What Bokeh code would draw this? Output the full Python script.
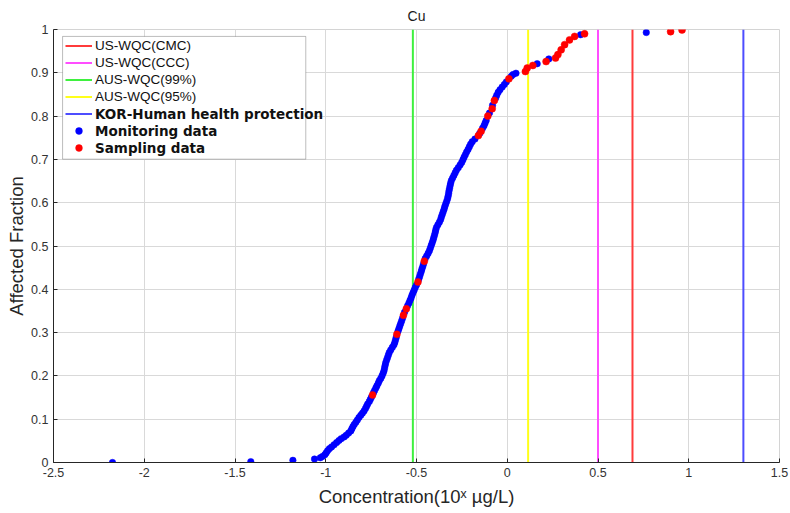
from bokeh.plotting import figure
from bokeh.models import (Range1d, FixedTicker, CustomJSTickFormatter, Legend, LegendItem,
                          BoxAnnotation, ColumnDataSource)
from bokeh.embed import file_html
from bokeh.resources import INLINE

# ---------------- data ----------------
title_text = "Cu"
threshold_names = ["US-WQC(CMC)", "US-WQC(CCC)", "AUS-WQC(99%)", "AUS-WQC(95%)", "KOR-Human health protection"]
threshold_values = [0.69, 0.50, -0.52, 0.115, 1.301]
threshold_colors = ["#ff3b3b", "#ff4dff", "#3ff03f", "#ffff1a", "#4d4dff"]

monitoring_x = [-2.175, -1.413, -1.181, -1.062, -1.030, -1.018, -1.005, -0.998, -0.990, -0.980,
                -0.968, -0.954, -0.940, -0.927, -0.915, -0.899, -0.887, -0.874, -0.862, -0.856,
                -0.850, -0.843, -0.834, -0.826, -0.817, -0.807, -0.798, -0.789, -0.781, -0.775,
                -0.769, -0.760, -0.754, -0.748, -0.737, -0.731, -0.724, -0.718, -0.711, -0.705,
                -0.697, -0.690, -0.684, -0.679, -0.676, -0.673, -0.670, -0.665, -0.660, -0.655,
                -0.650, -0.642, -0.633, -0.624, -0.619, -0.615, -0.611, -0.602, -0.597, -0.592,
                -0.587, -0.582, -0.577, -0.566, -0.549, -0.542, -0.536, -0.530, -0.525, -0.519,
                -0.513, -0.507, -0.500, -0.488, -0.483, -0.479, -0.474, -0.470, -0.465, -0.461,
                -0.452, -0.444, -0.436, -0.429, -0.424, -0.419, -0.414, -0.409, -0.405, -0.401,
                -0.397, -0.394, -0.390, -0.382, -0.374, -0.367, -0.363, -0.358, -0.353, -0.348,
                -0.344, -0.339, -0.334, -0.329, -0.326, -0.323, -0.321, -0.318, -0.315, -0.312,
                -0.308, -0.301, -0.294, -0.287, -0.280, -0.270, -0.260, -0.251, -0.244, -0.238,
                -0.231, -0.224, -0.216, -0.209, -0.202, -0.193, -0.178, -0.152, -0.136, -0.128,
                -0.122, -0.116, -0.098, -0.081, -0.064, -0.058, -0.050, -0.040, -0.028, -0.016,
                -0.005, 0.022, 0.032, 0.048, 0.165, 0.229, 0.404, 0.766]
monitoring_y = [0.000, 0.002, 0.005, 0.008, 0.011, 0.014, 0.018, 0.022, 0.027, 0.032,
                0.036, 0.041, 0.046, 0.051, 0.055, 0.059, 0.063, 0.068, 0.073, 0.078,
                0.083, 0.088, 0.093, 0.098, 0.104, 0.109, 0.114, 0.119, 0.125, 0.130,
                0.135, 0.141, 0.146, 0.151, 0.161, 0.166, 0.172, 0.177, 0.183, 0.189,
                0.194, 0.200, 0.206, 0.212, 0.218, 0.224, 0.230, 0.236, 0.242, 0.248,
                0.254, 0.260, 0.266, 0.272, 0.278, 0.284, 0.290, 0.303, 0.309, 0.315,
                0.321, 0.327, 0.333, 0.347, 0.362, 0.368, 0.374, 0.380, 0.386, 0.392,
                0.398, 0.404, 0.410, 0.423, 0.429, 0.435, 0.441, 0.447, 0.453, 0.459,
                0.471, 0.477, 0.483, 0.489, 0.495, 0.501, 0.507, 0.513, 0.519, 0.525,
                0.531, 0.537, 0.543, 0.549, 0.555, 0.561, 0.567, 0.573, 0.579, 0.585,
                0.591, 0.597, 0.603, 0.609, 0.615, 0.621, 0.627, 0.633, 0.639, 0.645,
                0.651, 0.657, 0.663, 0.669, 0.675, 0.681, 0.687, 0.693, 0.699, 0.705,
                0.711, 0.717, 0.723, 0.729, 0.735, 0.741, 0.747, 0.760, 0.772, 0.778,
                0.784, 0.790, 0.807, 0.825, 0.842, 0.848, 0.855, 0.861, 0.867, 0.873,
                0.879, 0.892, 0.896, 0.899, 0.921, 0.932, 0.988, 0.993]

sampling_x = [-0.742, -0.608, -0.572, -0.556, -0.492, -0.457, -0.159, -0.144, -0.107, -0.083,
              -0.071, 0.009, 0.100, 0.110, 0.141, 0.214, 0.266, 0.279, 0.297, 0.316,
              0.343, 0.371, 0.426, 0.900, 0.963]
sampling_y = [0.156, 0.296, 0.340, 0.355, 0.417, 0.465, 0.755, 0.765, 0.800, 0.817,
              0.836, 0.886, 0.903, 0.911, 0.917, 0.926, 0.934, 0.942, 0.953, 0.965,
              0.976, 0.984, 0.990, 0.995, 0.999]

x_ticks = [-2.5, -2, -1.5, -1, -0.5, 0, 0.5, 1, 1.5]
y_ticks = [0, 0.1, 0.2, 0.3, 0.4, 0.5, 0.6, 0.7, 0.8, 0.9, 1]
x_label = "Concentration(10\u02e3 \u00b5g/L)"
y_label = "Affected Fraction"

# ---------------- figure ----------------
AX = "#262626"
p = figure(width=790, height=513, output_backend="svg", toolbar_location=None,
           x_range=Range1d(-2.5, 1.5), y_range=Range1d(0, 1),
           min_border_left=53, min_border_right=11, min_border_top=28, min_border_bottom=51,
           title=title_text)
p.title.align = "center"
p.title.text_font = "Liberation Sans"
p.title.text_font_size = "14px"
p.title.text_font_style = "normal"
p.title.text_color = "#1a1a1a"
p.title.offset = 0
p.title.standoff = 11

p.background_fill_color = "white"
p.border_fill_color = "white"
p.outline_line_color = "#d4d4d4"
p.outline_line_width = 1

fmt = CustomJSTickFormatter(code="return String(Math.round(tick*10)/10);")
for ax, ticks in ((p.xaxis[0], x_ticks), (p.yaxis[0], y_ticks)):
    ax.ticker = FixedTicker(ticks=ticks)
    ax.formatter = fmt
    ax.axis_line_color = AX
    ax.axis_line_width = 1
    ax.major_tick_in = 4
    ax.major_tick_out = 0
    ax.major_tick_line_color = AX
    ax.minor_tick_line_color = None
    ax.major_label_text_font = "Liberation Sans"
    ax.major_label_text_font_size = "12.5px"
    ax.major_label_text_color = "#333333"
    ax.axis_label_text_font = "Liberation Sans"
    ax.axis_label_text_font_size = "18.5px"
    ax.axis_label_text_font_style = "normal"
    ax.axis_label_text_color = "#262626"

p.xaxis.axis_label = x_label
p.yaxis.axis_label = y_label
p.xaxis.major_label_standoff = 5
p.xaxis.axis_label_standoff = 6
p.yaxis.major_label_standoff = 5
p.yaxis.axis_label_standoff = 1

p.xgrid.ticker = FixedTicker(ticks=x_ticks)
p.ygrid.ticker = FixedTicker(ticks=y_ticks)
for g in (p.xgrid[0], p.ygrid[0]):
    g.grid_line_color = "#d9d9d9"
    g.grid_line_width = 1

# threshold lines
line_renderers = []
for name, val, col in zip(threshold_names, threshold_values, threshold_colors):
    src = ColumnDataSource(dict(x0=[val], x1=[val], y0=[y_ticks[0]], y1=[y_ticks[-1]]))
    r = p.segment(x0="x0", y0="y0", x1="x1", y1="y1", source=src, line_color=col, line_width=2)
    line_renderers.append(r)

r_mon = p.scatter(monitoring_x, monitoring_y, size=6.5, marker="circle",
                  fill_color="#0000ff", line_color="#0000ff", line_width=0.5)
r_samp = p.scatter(sampling_x, sampling_y, size=7, marker="circle",
                   fill_color="#ff0000", line_color="#ff0000", line_width=0.5)

# legend frame
box = BoxAnnotation(left=-2.45, right=-1.11, top=0.984, bottom=0.7005,
                    fill_color="white", fill_alpha=1.0, line_color=AX, line_width=1)
p.add_layout(box)

legA = Legend(items=[LegendItem(label=n, renderers=[r]) for n, r in zip(threshold_names[:4], line_renderers[:4])],
              location=(12, 357), orientation="vertical")
legB = Legend(items=[LegendItem(label=threshold_names[4], renderers=[line_renderers[4]]),
                     LegendItem(label="Monitoring data", renderers=[r_mon]),
                     LegendItem(label="Sampling data", renderers=[r_samp])],
              location=(12, 306), orientation="vertical")
for lg, font, size, style in ((legA, "Liberation Sans", "13.5px", "normal"),
                              (legB, "DejaVu Sans", "13.5px", "bold")):
    lg.label_text_font = font
    lg.label_text_font_size = size
    lg.label_text_font_style = style
    lg.label_text_color = "#111111"
    lg.label_height = 17
    lg.glyph_height = 17
    lg.glyph_width = 27
    lg.label_standoff = 3
    lg.spacing = 0
    lg.padding = 0
    lg.margin = 0
    lg.border_line_color = None
    lg.background_fill_alpha = 0
    p.add_layout(lg, "center")

open("out.html", "w").write(file_html(p, INLINE))
